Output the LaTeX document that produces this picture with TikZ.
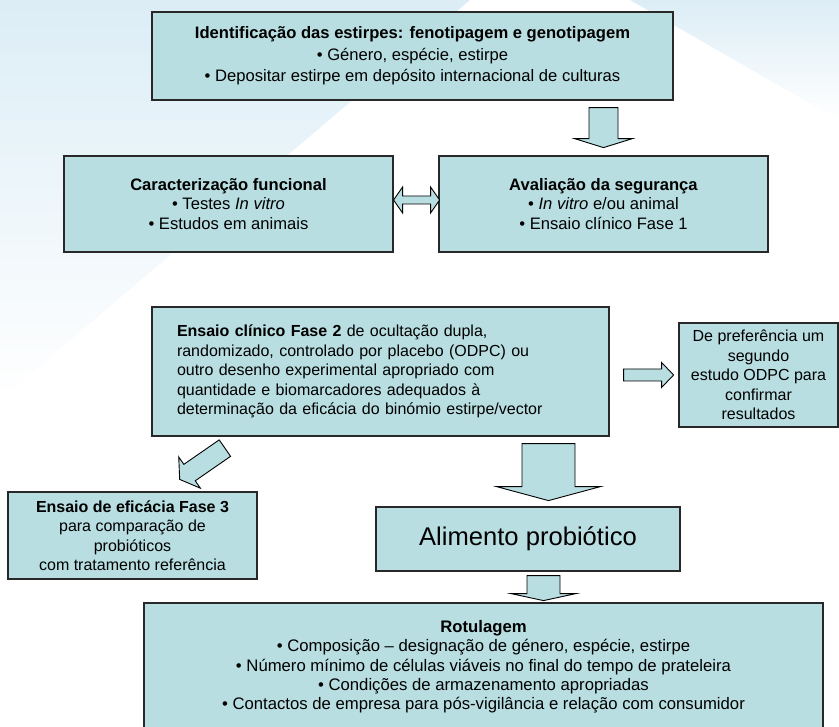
\documentclass[tikz,border=0pt]{standalone}
\usepackage{fontspec}
\setmainfont{Liberation Sans}
\usepackage{xcolor}
\usepackage{tikz}
\usetikzlibrary{calc}

\definecolor{boxfill}{RGB}{184,222,225}
\definecolor{boxline}{RGB}{40,40,40}
\definecolor{bgblue}{RGB}{220,237,246}

\tikzset{
  box/.style={draw=boxline, fill=boxfill, line width=1.2pt, inner sep=0pt, align=center,
    font=\fontsize{16}{19.5}\selectfont},
  widebox/.style={box, font=\fontsize{16.6}{19.5}\selectfont},
  arrowline/.style={draw=black, fill=boxfill, line width=0.9pt, line join=miter},
  pics/fatarrow/.style n args={4}{code={
    \draw[arrowline] (0,{-#2/2}) -- ({#1-#4},{-#2/2}) -- ({#1-#4},{-#3/2}) -- (#1,0)
      -- ({#1-#4},{#3/2}) -- ({#1-#4},{#2/2}) -- (0,{#2/2}) -- cycle;}},
  pics/dblarrow/.style n args={4}{code={
    \draw[arrowline] (0,0) -- (#4,{-#3/2}) -- (#4,{-#2/2}) -- ({#1-#4},{-#2/2}) -- ({#1-#4},{-#3/2})
      -- (#1,0) -- ({#1-#4},{#3/2}) -- ({#1-#4},{#2/2}) -- (#4,{#2/2}) -- (#4,{#3/2}) -- cycle;}}
}

\begin{document}
\begin{tikzpicture}[x=1pt,y=-1pt]
      \useasboundingbox (0,0) rectangle (839,727);
      \clip (0,0) rectangle (839,727);
      \shade[top color=bgblue, bottom color=white] (0,0) -- (470,0) -- (0,400) -- cycle;
      \shade[top color=bgblue, bottom color=white] (630,0) -- (839,0) -- (839,120) -- cycle;

      \node[widebox, minimum width=521pt, minimum height=88pt, font=\fontsize{16.6}{21.5}\selectfont] (Id) at (412.5,56)
        {\textbf{Identificação das estirpes: fenotipagem e genotipagem}\\• Género, espécie, estirpe\\• Depositar estirpe em depósito internacional de culturas};
      \node[widebox, minimum width=329pt, minimum height=96pt] (Car) at (228.5,204)
        {\textbf{Caracterização funcional}\\• Testes \textit{In vitro}\\• Estudos em animais};
      \node[widebox, minimum width=329pt, minimum height=96pt] (Av) at (603.5,204)
        {\textbf{Avaliação da segurança}\\• \textit{In vitro} e/ou animal\\• Ensaio clínico Fase 1};
      \node[box, minimum width=457pt, minimum height=129pt, align=left, text width=407pt] (F2) at (380.5,371.5)
        {\textbf{Ensaio clínico Fase 2} de ocultação dupla,\\randomizado, controlado por placebo (ODPC) ou\\outro desenho experimental apropriado com\\quantidade e biomarcadores adequados à\\determinação da eficácia do binómio estirpe/vector};
      \node[box, minimum width=159pt, minimum height=104pt] (Pr) at (758.5,375)
        {De preferência um\\segundo\\estudo ODPC para\\confirmar\\resultados};
      \node[box, minimum width=249pt, minimum height=87pt] (F3) at (132.5,535.5)
        {\textbf{Ensaio de eficácia Fase 3}\\para comparação de\\probióticos\\com tratamento referência};
      \node[box, minimum width=304pt, minimum height=64pt, font=\fontsize{25.6}{30}\selectfont] (Al) at (528,539)
        {Alimento probiótico};
      \node[widebox, minimum width=679pt, minimum height=128pt, font=\fontsize{16.7}{19.3}\selectfont] (Ro) at (483.5,667)
        {\textbf{Rotulagem}\\• Composição – designação de género, espécie, estirpe\\• Número mínimo de células viáveis no final do tempo de prateleira\\• Condições de armazenamento apropriadas\\• Contactos de empresa para pós-vigilância e relação com consumidor};

      \pic[rotate=-90] at ($(Id.south -| Av.north)+(0,7)$) {fatarrow={40}{29}{58}{9}};
      \pic at ($(Car.east)+(0,-4)$) {dblarrow={46}{8}{26}{9}};
      \pic at ($(F2.east |- Pr.west)+(14,0)$) {fatarrow={50}{12}{25}{12}};
      \pic[rotate=214.7] at ($(F2.south west)+(73.5,11.5)$) {fatarrow={55}{20}{38}{12}};
      \pic[rotate=-90] at ($(F2.south -| Al.north)+(20.5,7)$) {fatarrow={57}{53}{104}{14}};
      \pic[rotate=-90] at ($(Al.south)+(15.5,4)$) {fatarrow={25}{33}{65}{7}};
    \end{tikzpicture}
\end{document}
